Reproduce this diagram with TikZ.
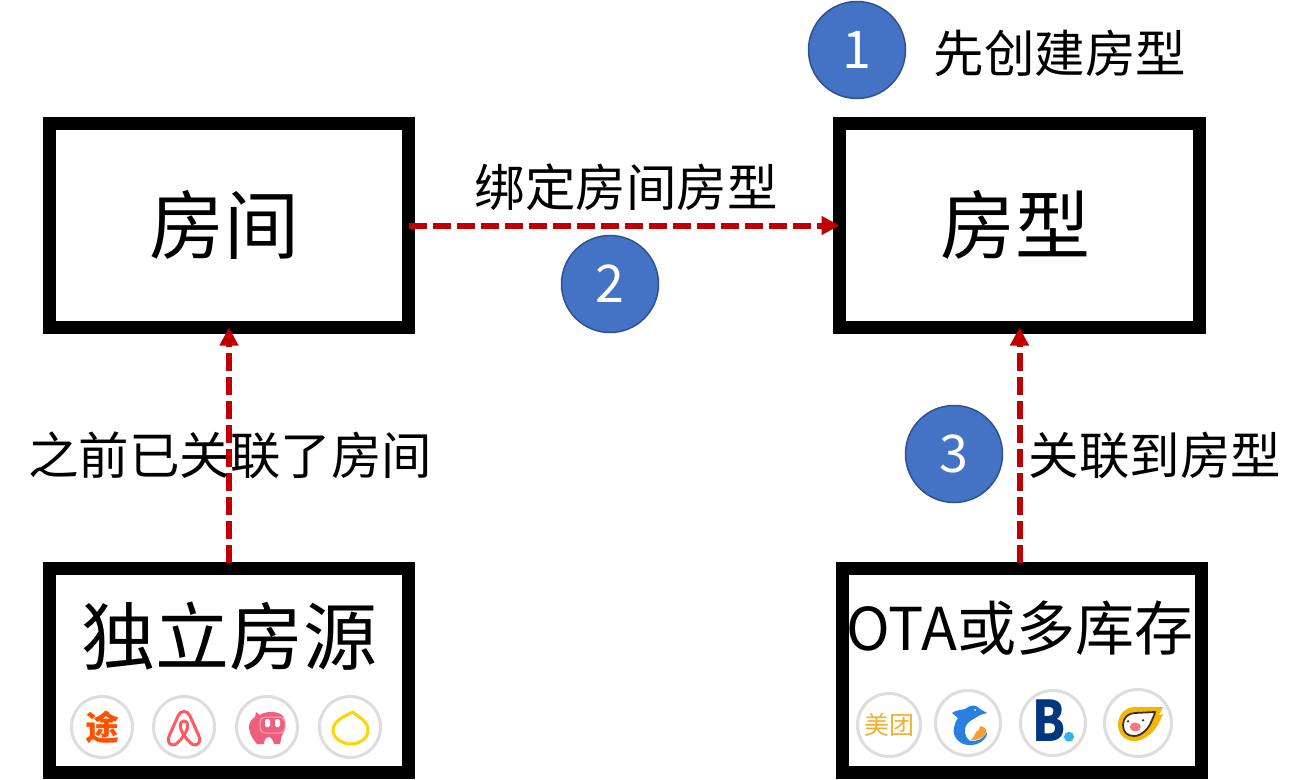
\documentclass[tikz,border=0pt]{standalone}
\usepackage{fontspec}
\setmainfont{Noto Sans CJK SC}
\usetikzlibrary{arrows.meta}
\newcommand{\fsz}[1]{\fontsize{#1}{#1}\selectfont}
\definecolor{arrowred}{HTML}{C00000}
\definecolor{stepblue}{HTML}{4472C4}
\definecolor{stepline}{HTML}{2F528F}
\definecolor{icongray}{HTML}{DDDDDD}
\begin{document}
\begin{tikzpicture}[
  x=1pt,y=-1pt,
  box/.style={rectangle,draw=black,line width=13pt,outer sep=0pt,inner sep=0pt,
              minimum width=359pt,minimum height=204pt},
  arrow/.style={-{Triangle[length=18pt,width=18pt]},line width=6pt,color=arrowred,
                dash pattern=on 18pt off 6pt},
  label/.style={inner sep=0pt,font=\fsz{50.5}},
  stepnum/.style={circle,fill=stepblue,draw=stepline,line width=1.5pt,minimum size=97pt,
                  inner sep=0pt,text=white,font=\fsz{52}},
  icon/.style={circle,draw=icongray,line width=3pt,fill=white,minimum size=61pt,inner sep=0pt}
]
\useasboundingbox (0,0) rectangle (1311,779);

\node[box] (room)     at (229,225.5) {};
\node[box,minimum width=360pt] (roomtype) at (1019.5,225.5) {};
\node[box] (indep)    at (229,670.5) {};
\node[box] (ota)      at (1022,670.5) {};

\node[inner sep=0pt,font=\fsz{75}] (roomtext) at (224,225) {房间};
\node[inner sep=0pt,font=\fsz{75}] (typetext) at (1015,225) {房型};
\node[inner sep=0pt,font=\fsz{74}] (indeptext) at (229,636) {独立房源};
\node[inner sep=0pt,font=\fsz{59}] (otatext) at (1020,628) {OTA或多库存};

\draw[arrow] (room.east) -- (roomtype.west);
\draw[arrow,shorten <=6pt] (indep.north) -- (room.south);
\draw[arrow,shorten <=6pt] (ota.north -| roomtype.south) -- (roomtype.south);

\node[label] (bindlabel) at (626,187) {绑定房间房型};
\node[label] (prevlabel) at (230,455) {之前已关联了房间};
\node[label] (linklabel) at (1155,455) {关联到房型};
\node[label] (firstlabel) at (1060,53) {先创建房型};

\node[stepnum] (one)   at (857,50)  {1};
\node[stepnum] (two)   at (610,284) {2};
\node[stepnum] (three) at (954,454) {3};

\node[icon] (tujia)  at (102,727) {};
\node[icon] (airbnb) at (184,727) {};
\node[icon] (xiaozhu) at (267,727) {};
\node[icon] (mayi)   at (350,727) {};
\node[icon,minimum size=63pt] (meituan) at (889,725) {};
\node[icon,minimum size=65pt] (ctrip)   at (968,723) {};
\node[icon,minimum size=65pt] (booking) at (1053,723) {};
\node[icon,minimum size=67pt] (fliggy)  at (1138,723) {};

\node[inner sep=0pt,text={rgb,255:red,255;green,80;blue,0},font=\fsz{34}\bfseries] (tutext) at (tujia) {途};
\begin{scope}[shift={(airbnb.center)}]
\draw[color={rgb,255:red,255;green,90;blue,95},line width=3pt,line join=round]
  (0,8) .. controls (-4,14) and (-8,18) .. (-11,18) .. controls (-16,18) and (-17,12) .. (-14,7)
  -- (-6,-11) .. controls (-4,-17) and (4,-17) .. (6,-11) -- (14,7)
  .. controls (17,12) and (16,18) .. (11,18) .. controls (8,18) and (4,14) .. (0,8)
  .. controls (-5,1) and (-5,-6) .. (0,-6) .. controls (5,-6) and (5,1) .. (0,8) -- cycle;
\end{scope}
\begin{scope}[shift={(xiaozhu.center)}]
\fill[color={rgb,255:red,239;green,95;blue,125}]
  (-11,-15) -- (-7,-12) .. controls (-2,-16) and (10,-16) .. (15,-12)
  .. controls (19,-8) and (20,2) .. (15,8) -- (13,17) -- (7,17)
  .. controls (6,13) and (4,10) .. (2,10) .. controls (-1,10) and (-3,13) .. (-3,17) -- (-10,17)
  .. controls (-14,12) and (-18,7) .. (-18,0) .. controls (-18,-5) and (-15,-8) .. (-12,-10) -- cycle;
\draw[color={rgb,255:red,250;green,170;blue,185},line width=1pt,rounded corners=5pt]
  (-7,-10) rectangle (18,6);
\fill[white,rounded corners=1.5pt] (-2,-8) rectangle (3,0);
\fill[white,rounded corners=1.5pt] (8,-8) rectangle (13,0);
\end{scope}
\begin{scope}[shift={(mayi.center)}]
\draw[color={rgb,255:red,255;green,212;blue,0},line width=3pt,line join=round]
  (3,-15) .. controls (6,-11) and (18,-7) .. (18,3) .. controls (18,12) and (9,17) .. (1,17)
  .. controls (-8,17) and (-17,11) .. (-17,3) .. controls (-17,-6) and (-5,-11) .. (3,-15) -- cycle;
\end{scope}

\node[inner sep=0pt,text={rgb,255:red,242;green,176;blue,46},font=\fsz{25}] (mttext) at (meituan) {美团};
\begin{scope}[shift={(ctrip.center)}]
\fill[color={rgb,255:red,42;green,127;blue,224}]
  (-16,-10) .. controls (-12,-13) and (-7,-13) .. (-3,-14) .. controls (1,-18) and (9,-19) .. (12,-14)
  -- (19,-10) -- (12,-8) .. controls (8,-5) and (2,-3) .. (-1,1)
  .. controls (-5,7) and (-3,14) .. (1,17) .. controls (8,20) and (15,16) .. (19,9)
  .. controls (20,15) and (11,23) .. (1,22) .. controls (-9,22) and (-16,13) .. (-14,5)
  .. controls (-13,1) and (-12,-3) .. (-10,-5) .. controls (-12,-7) and (-14,-8) .. (-16,-10) -- cycle;
\fill[white]
  (3,2) .. controls (-3,6) and (-3,14) .. (2,18) .. controls (0,12) and (1,7) .. (3,2) -- cycle;
\fill[color={rgb,255:red,245;green,160;blue,50}]
  (8,9) .. controls (11,8) and (12,6) .. (12,3) .. controls (17,4) and (20,7) .. (18,10)
  .. controls (15,15) and (8,18) .. (3,17) .. controls (5,15) and (7,12) .. (8,9) -- cycle;
\fill[white] (7,-13) circle (1pt);
\end{scope}
\node[inner sep=0pt,text={rgb,255:red,0;green,53;blue,128},font=\fsz{56}\bfseries,xscale=0.85] (btext) at (1048.7,721) {B};
\node[circle,fill={rgb,255:red,45;green,181;blue,232},minimum size=10pt,inner sep=0pt] (bdot) at (1069,736.7) {};
\begin{scope}[shift={(fliggy.center)}]
\fill[color={rgb,255:red,248;green,181;blue,0},line join=round]
  (-20,2) .. controls (-20,-9) and (-12,-16) .. (-3,-16) -- (25,-16) -- (21,-8) -- (25,-9)
  .. controls (21,1) and (16,9) .. (11,12) .. controls (5,17) and (0,18) .. (-4,18)
  .. controls (-13,18) and (-20,11) .. (-20,2) -- cycle;
\filldraw[fill=white,draw=black!80,line width=1.8pt]
  (-15,2) .. controls (-15,-5) and (-10,-10) .. (-3,-10) -- (17,-11)
  .. controls (16,-7) and (15,-5) .. (14,-3) .. controls (12,2) and (10,5) .. (8,7)
  .. controls (4,11) and (0,13) .. (-4,13) .. controls (-11,13) and (-15,9) .. (-15,2) -- cycle;
\fill[color={rgb,255:red,247;green,120;blue,125}] (-2.7,4) ellipse (5.5pt and 4.5pt);
\fill[black!80] (-10,-1.7) circle (1.3pt) (5,-2.7) circle (1.3pt);
\end{scope}
\end{tikzpicture}
\end{document}
